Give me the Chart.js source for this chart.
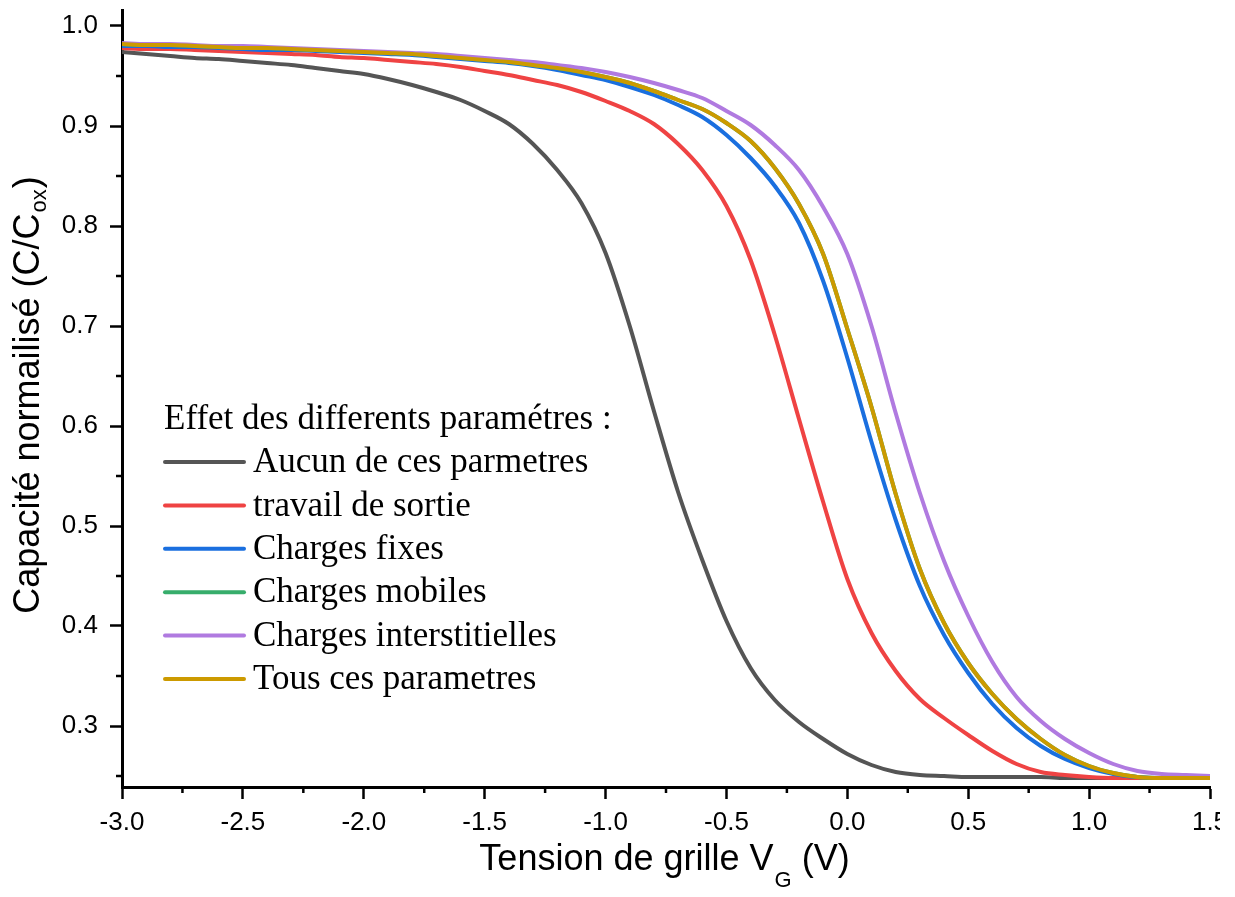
<!DOCTYPE html>
<html>
<head>
<meta charset="utf-8">
<script src="https://cdn.jsdelivr.net/npm/chart.js@4.4.1/dist/chart.umd.min.js"></script>
<style>
    html, body { margin: 0; padding: 0; background: #fff; overflow: hidden; }
    #wrap { width: 1220px; height: 897px; }
</style>
</head>
<body>
<div id="wrap"><canvas id="cvChart" width="1220" height="897"></canvas></div>
<script>
// Tension de grille (V), pas de 0.1 V
const tension = [
    -3.0, -2.9, -2.8, -2.7, -2.6, -2.5, -2.4, -2.3, -2.2, -2.1,
    -2.0, -1.9, -1.8, -1.7, -1.6, -1.5, -1.4, -1.3, -1.2, -1.1,
    -1.0, -0.9, -0.8, -0.7, -0.6, -0.5, -0.4, -0.3, -0.2, -0.1,
    0.0, 0.1, 0.2, 0.3, 0.4, 0.5, 0.6, 0.7, 0.8, 0.9,
    1.0, 1.1, 1.2, 1.3, 1.4, 1.5
];

// C/Cox pour chaque cas
const aucun = [
    0.974, 0.972, 0.970, 0.968, 0.967, 0.965, 0.963, 0.961, 0.958, 0.955,
    0.952, 0.947, 0.941, 0.934, 0.926, 0.915, 0.902, 0.882, 0.856, 0.823,
    0.773, 0.700, 0.615, 0.534, 0.466, 0.405, 0.358, 0.326, 0.304, 0.287,
    0.272, 0.261, 0.254, 0.251, 0.250, 0.249, 0.249, 0.249, 0.249, 0.248,
    0.248, 0.248, 0.248, 0.248, 0.248, 0.248
];
const travailSortie = [
    0.978, 0.977, 0.977, 0.976, 0.975, 0.974, 0.973, 0.972, 0.971, 0.969,
    0.968, 0.966, 0.964, 0.962, 0.959, 0.955, 0.951, 0.946, 0.941, 0.934,
    0.925, 0.915, 0.902, 0.882, 0.856, 0.820, 0.766, 0.691, 0.607, 0.524,
    0.447, 0.393, 0.355, 0.327, 0.308, 0.291, 0.275, 0.262, 0.254, 0.251,
    0.249, 0.248, 0.248, 0.248, 0.248, 0.248
];
const chargesFixes = [
    0.980, 0.980, 0.979, 0.979, 0.978, 0.977, 0.976, 0.976, 0.975, 0.974,
    0.973, 0.972, 0.971, 0.969, 0.967, 0.965, 0.963, 0.960, 0.956, 0.951,
    0.946, 0.939, 0.931, 0.921, 0.909, 0.891, 0.868, 0.840, 0.803, 0.745,
    0.668, 0.584, 0.506, 0.440, 0.391, 0.353, 0.322, 0.298, 0.280, 0.267,
    0.258, 0.252, 0.249, 0.248, 0.248, 0.248
];
const chargesMobiles = [
    0.982, 0.981, 0.981, 0.980, 0.979, 0.978, 0.978, 0.977, 0.976, 0.975,
    0.974, 0.973, 0.972, 0.970, 0.968, 0.966, 0.964, 0.961, 0.958, 0.954,
    0.949, 0.943, 0.935, 0.926, 0.917, 0.903, 0.885, 0.858, 0.822, 0.772,
    0.697, 0.619, 0.532, 0.457, 0.403, 0.363, 0.332, 0.307, 0.287, 0.271,
    0.260, 0.253, 0.249, 0.248, 0.248, 0.248
];
const chargesInterstitielles = [
    0.983, 0.982, 0.982, 0.981, 0.980, 0.980, 0.979, 0.978, 0.977, 0.976,
    0.975, 0.974, 0.973, 0.972, 0.970, 0.968, 0.966, 0.964, 0.961, 0.958,
    0.954, 0.949, 0.943, 0.936, 0.928, 0.915, 0.901, 0.881, 0.856, 0.819,
    0.772, 0.700, 0.613, 0.533, 0.465, 0.410, 0.364, 0.329, 0.305, 0.287,
    0.273, 0.262, 0.255, 0.252, 0.251, 0.250
];
const tousParametres = [
    0.982, 0.981, 0.981, 0.980, 0.979, 0.978, 0.978, 0.977, 0.976, 0.975,
    0.974, 0.973, 0.972, 0.970, 0.968, 0.966, 0.964, 0.961, 0.958, 0.954,
    0.949, 0.943, 0.935, 0.926, 0.917, 0.903, 0.885, 0.858, 0.822, 0.772,
    0.697, 0.619, 0.532, 0.457, 0.403, 0.363, 0.332, 0.307, 0.287, 0.271,
    0.260, 0.253, 0.249, 0.248, 0.248, 0.248
];

const legendTitle = "Effet des differents paramétres :";
const seriesNames = [
    "Aucun de ces parmetres",
    "travail de sortie",
    "Charges fixes",
    "Charges mobiles",
    "Charges interstitielles",
    "Tous ces parametres"
];
const seriesColors = ["#555555", "#ef4343", "#1a6fdf", "#37ad6b", "#b07ae0", "#cc9a00"];
const seriesValues = [aucun, travailSortie, chargesFixes, chargesMobiles, chargesInterstitielles, tousParametres];

const xTickLabels = ["-3.0", "-2.5", "-2.0", "-1.5", "-1.0", "-0.5", "0.0", "0.5", "1.0", "1.5"];
const yTickLabels = ["0.3", "0.4", "0.5", "0.6", "0.7", "0.8", "0.9", "1.0"];

const SANS = "'Liberation Sans', Arial, sans-serif";
const SERIF = "'Liberation Serif', 'Times New Roman', serif";

// ticks majeurs tirés des libellés
function setTicks(labels) {
    return (scale) => {
        scale.ticks = labels.map(l => ({ value: parseFloat(l), label: l }));
    };
}

// petits ticks intermédiaires + titres des axes + légende
const decorPlugin = {
    id: "decor",
    afterDraw(chart) {
        const c = chart.ctx;
        const xs = chart.scales.x, ys = chart.scales.y;
        const area = chart.chartArea;

        c.save();
        c.strokeStyle = "#000";
        c.lineWidth = 2.5;
        // minor ticks x
        const xv = xTickLabels.map(parseFloat);
        for (let i = 0; i < xv.length - 1; i++) {
            const px = xs.getPixelForValue((xv[i] + xv[i + 1]) / 2);
            c.beginPath();
            c.moveTo(px, area.bottom);
            c.lineTo(px, area.bottom + 6);
            c.stroke();
        }
        // minor ticks y
        const yv = yTickLabels.map(parseFloat);
        const yMinor = [yv[0] - 0.05];
        for (let i = 0; i < yv.length - 1; i++) yMinor.push((yv[i] + yv[i + 1]) / 2);
        yMinor.forEach(v => {
            const py = ys.getPixelForValue(v);
            c.beginPath();
            c.moveTo(area.left, py);
            c.lineTo(area.left - 6, py);
            c.stroke();
        });

        // titre axe X avec indice
        c.fillStyle = "#000";
        c.textBaseline = "alphabetic";
        c.textAlign = "left";
        const big = "36px " + SANS, small = "22px " + SANS;
        c.font = big;
        const p1 = "Tension de grille V", p3 = " (V)";
        const w1 = c.measureText(p1).width, w3 = c.measureText(p3).width;
        c.font = small;
        const w2 = c.measureText("G").width;
        let x0 = 664 - (w1 + w2 + w3) / 2;
        const base = 870;
        c.font = big; c.fillText(p1, x0, base);
        c.font = small; c.fillText("G", x0 + w1 + 1, base + 17);
        c.font = big; c.fillText(p3, x0 + w1 + w2 + 1, base);

        // titre axe Y (tourné) avec indice
        c.save();
        c.translate(39, 396);
        c.rotate(-Math.PI / 2);
        c.font = big;
        const q1 = "Capacité normailisé (C/C", q3 = ")";
        const v1 = c.measureText(q1).width, v3 = c.measureText(q3).width;
        c.font = small;
        const v2 = c.measureText("ox").width;
        let y0 = -(v1 + v2 + v3) / 2;
        c.font = big; c.fillText(q1, y0, 0);
        c.font = small; c.fillText("ox", y0 + v1 + 1, 7);
        c.font = big; c.fillText(q3, y0 + v1 + v2 + 2, 0);
        c.restore();

        // légende
        c.font = "35px " + SERIF;
        c.textBaseline = "middle";
        c.fillText(legendTitle, 164, 420);
        c.lineWidth = 4;
        c.lineCap = "round";
        chart.data.datasets.slice().sort((a, b) => a.idx - b.idx).forEach((ds, i) => {
            const y = 462 + i * 43.4;
            c.strokeStyle = ds.borderColor;
            c.beginPath();
            c.moveTo(165, y);
            c.lineTo(244, y);
            c.stroke();
            c.fillStyle = "#000";
            c.fillText(ds.label, 253, y + 1);
        });
        c.restore();
    }
};

const datasets = seriesNames.map((name, i) => ({
    label: name,
    idx: i,
    data: tension.map((t, k) => ({ x: t, y: seriesValues[i][k] })),
    borderColor: seriesColors[i],
    borderWidth: 4,
    pointRadius: 0,
    fill: false,
    cubicInterpolationMode: "monotone",
    order: seriesNames.length - i   // dernier tracé au-dessus
}));

const ctx = document.getElementById("cvChart").getContext("2d");
new Chart(ctx, {
    type: "line",
    data: { datasets: datasets },
    options: {
        responsive: false,
        animation: false,
        events: [],
        layout: { padding: { top: 10, right: 10, left: 0, bottom: 0 } },
        plugins: { legend: { display: false }, tooltip: { enabled: false } },
        scales: {
            x: {
                type: "linear",
                min: -3.0,
                max: 1.5,
                afterBuildTicks: setTicks(xTickLabels),
                afterFit(scale) {
                    scale.height = 110;
                    scale.paddingLeft = 0;
                    scale.paddingRight = 0;
                },
                ticks: {
                    autoSkip: false,
                    maxRotation: 0,
                    padding: 8,
                    color: "#000",
                    font: { family: SANS, size: 26 },
                    callback: (v, i, t) => t[i].label
                },
                grid: { drawOnChartArea: false, tickLength: 12, tickWidth: 2.5, tickColor: "#000" },
                border: { color: "#000", width: 3 }
            },
            y: {
                type: "linear",
                min: 0.239,
                max: 1.016,
                afterBuildTicks: setTicks(yTickLabels),
                afterFit(scale) {
                    scale.width = 122;
                    scale.paddingTop = 0;
                    scale.paddingBottom = 0;
                },
                ticks: {
                    padding: 12,
                    color: "#000",
                    font: { family: SANS, size: 26 },
                    callback: (v, i, t) => t[i].label
                },
                grid: { drawOnChartArea: false, tickLength: 12, tickWidth: 2.5, tickColor: "#000" },
                border: { color: "#000", width: 3 }
            }
        }
    },
    plugins: [decorPlugin]
});
</script>
</body>
</html>
